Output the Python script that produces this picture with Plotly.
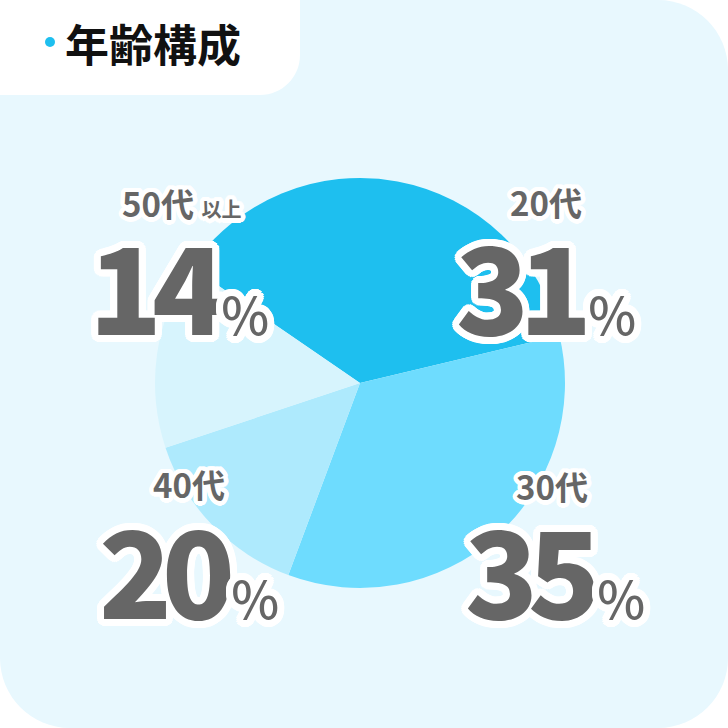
import math
import plotly.graph_objects as go

# ---- data ----
age_groups = ["20代", "30代", "40代", "50代"]
age_group_labels = ["20代", "30代", "40代", "50代 <span style='font-size:20px'>以上</span>"]
percent_labels = [31, 35, 20, 14]
# slice shares as drawn in the reference pie
slice_shares = [36.7, 34.4, 14.2, 14.7]
slice_colors = ["#1ebfef", "#6edcfe", "#aeeafd", "#d7f4fd"]
title_text = "年齢構成"

W = H = 728
FONT = "Noto Sans CJK JP"
GRAY = "#666666"


def px(x):
    return x / W


def py(y):
    return 1 - y / H


def outline(r, n=24, color="white"):
    parts = []
    for i in range(n):
        a = 2 * math.pi * i / n
        parts.append(f"{r*math.cos(a):.1f}px {r*math.sin(a):.1f}px 0 {color}")
    return ", ".join(parts)


def rounded_path(x0, y0, x1, y1, rtl, rtr, rbr, rbl):
    k = 0.5523

    def P(x, y):
        return f"{px(x):.5f},{py(y):.5f}"
    d = f"M {P(x0 + rtl, y0)} L {P(x1 - rtr, y0)} "
    d += f"C {P(x1 - rtr + k*rtr, y0)} {P(x1, y0 + rtr - k*rtr)} {P(x1, y0 + rtr)} "
    d += f"L {P(x1, y1 - rbr)} "
    d += f"C {P(x1, y1 - rbr + k*rbr)} {P(x1 - rbr + k*rbr, y1)} {P(x1 - rbr, y1)} "
    d += f"L {P(x0 + rbl, y1)} "
    d += f"C {P(x0 + rbl - k*rbl, y1)} {P(x0, y1 - rbl + k*rbl)} {P(x0, y1 - rbl)} "
    d += f"L {P(x0, y0 + rtl)} "
    d += f"C {P(x0, y0 + rtl - k*rtl)} {P(x0 + rtl - k*rtl, y0)} {P(x0 + rtl, y0)} Z"
    return d


cx, cy, R = 360, 383, 205

fig = go.Figure()
fig.add_trace(go.Pie(
    labels=age_groups,
    values=slice_shares,
    sort=False,
    direction="clockwise",
    rotation=-55.5,
    marker=dict(colors=slice_colors, line=dict(width=0)),
    textinfo="none",
    hoverinfo="label+percent",
    showlegend=False,
    domain=dict(x=[px(cx - R), px(cx + R)], y=[py(cy + R), py(cy - R)]),
))

shapes = [
    dict(type="path", xref="paper", yref="paper", layer="below",
         path=rounded_path(0, 0, 728, 728, 70, 70, 70, 70),
         fillcolor="#e8f8fe", line=dict(width=0)),
    dict(type="path", xref="paper", yref="paper", layer="below",
         path=rounded_path(0, 0, 300, 95, 0, 0, 40, 0),
         fillcolor="#ffffff", line=dict(width=0)),
    dict(type="circle", xref="paper", yref="paper", layer="above",
         x0=px(45), x1=px(55), y0=py(47), y1=py(37),
         fillcolor="#1ebfef", line=dict(width=0)),
]

annotations = [
    dict(text=title_text, x=px(63), y=py(43), xref="paper", yref="paper",
         xanchor="left", yanchor="middle", showarrow=False,
         font=dict(family=FONT, size=44, color="#111111", weight=700)),
]

# label positions (pixel centres) for 20代, 30代, 40代, 50代
small_pos = [(546, 202), (552, 486), (189, 484), (181, 203)]
big_pos = [(546, 283), (555, 567), (189, 567), (179, 283)]

for i in range(len(age_groups)):
    sx, sy = small_pos[i]
    annotations.append(dict(
        text=age_group_labels[i], x=px(sx), y=py(sy), xref="paper", yref="paper",
        xanchor="center", yanchor="middle", showarrow=False,
        font=dict(family=FONT, size=33, color=GRAY, weight=700, shadow=outline(4.5))))
    bx, by = big_pos[i]
    annotations.append(dict(
        text=(f"<span style='letter-spacing:-10px'>{percent_labels[i]}</span>"
              f"<span style='font-size:26px'> </span>"
              f"<span style='font-size:51px;font-weight:500'>%</span>"),
        x=px(bx), y=py(by), xref="paper", yref="paper",
        xanchor="center", yanchor="middle", showarrow=False,
        font=dict(family=FONT, size=120, color=GRAY, weight=900, shadow=outline(7))))

fig.update_layout(
    width=W, height=H,
    margin=dict(l=0, r=0, t=0, b=0),
    paper_bgcolor="#ffffff",
    plot_bgcolor="rgba(0,0,0,0)",
    shapes=shapes,
    annotations=annotations,
)

fig.write_html("out.html", config={"displayModeBar": False},
               post_script="document.body.style.margin='0';")
